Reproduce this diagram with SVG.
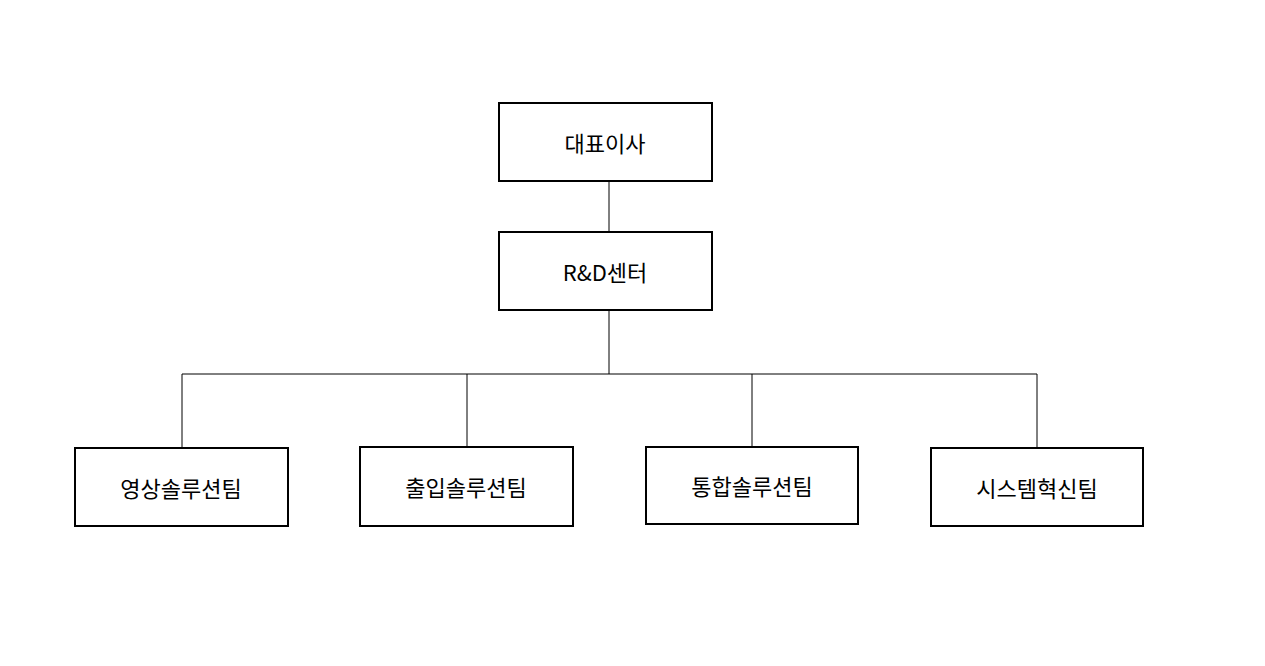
<svg xmlns="http://www.w3.org/2000/svg" width="1265" height="666" viewBox="0 0 1265 666">
<style>
.b{fill:#fff;stroke:#000;stroke-width:2}
.t{font-family:"Noto Sans CJK KR","Liberation Sans",sans-serif;font-size:22px;text-anchor:middle;dominant-baseline:central;fill:#000}
.c{stroke:#000;stroke-width:1;fill:none}
</style>
<rect width="1265" height="666" fill="#fff"/>
<g id="connectors">
<path class="c" d="M609 181V232M609 310V374M182 374H1037M182 374V448M467 374V447M752 374V447M1037 374V448"/>
</g>
<g id="n1"><rect class="b" x="499" y="103" width="213" height="78"/><text class="t" x="605" y="142">대표이사</text></g>
<g id="n2"><rect class="b" x="499" y="232" width="213" height="78"/><text class="t" x="605" y="271">R&amp;D센터</text></g>
<g id="n3"><rect class="b" x="75" y="448" width="213" height="78"/><text class="t" x="181" y="487">영상솔루션팀</text></g>
<g id="n4"><rect class="b" x="360" y="447" width="213" height="79"/><text class="t" x="466" y="486">출입솔루션팀</text></g>
<g id="n5"><rect class="b" x="646" y="447" width="212" height="77"/><text class="t" x="752" y="485">통합솔루션팀</text></g>
<g id="n6"><rect class="b" x="931" y="448" width="212" height="78"/><text class="t" x="1037" y="487">시스템혁신팀</text></g>
</svg>
